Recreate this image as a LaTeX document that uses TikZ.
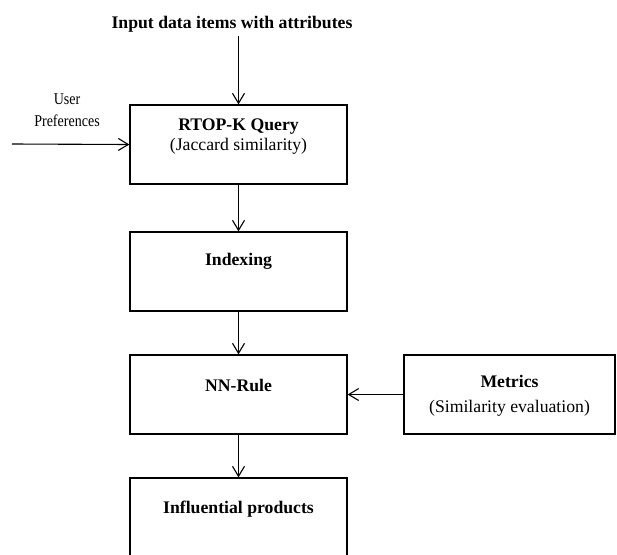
\documentclass[tikz,border=0pt]{standalone}
\usepackage{fontspec}
\setmainfont{Liberation Serif}
\usetikzlibrary{arrows.meta}

\begin{document}
\begin{tikzpicture}[x=1pt,y=-1pt,
  box/.style={draw=black, line width=1.3pt, minimum width=217pt, minimum height=79pt, inner sep=0pt},
  title/.style={font=\fontsize{17.7}{20}\selectfont\bfseries},
  sub/.style={font=\fontsize{17.7}{20}\selectfont},
  flow/.style={draw=black, line width=1.1pt, -{Straight Barb[length=10pt,width=12pt]}}]

\useasboundingbox (0,0) rectangle (617,554);

% INPUT
  \node[title] (input) at (232,24) {Input data items with attributes};

% USER PREFERENCES
  \node[align=center, font=\fontsize{16.5}{22}\selectfont] (pref) at (67,110)
    {\scalebox{0.85}[1]{User}\\\scalebox{0.85}[1]{Preferences}};
  \coordinate (prefin) at (12,144);

% BOXES
  \node[box] (query)   at (238.5,144.5) {};
  \node[box] (index)   at (238.5,271.5) {};
  \node[box] (nnrule)  at (238.5,394.5) {};
  \node[box, minimum width=211pt] (metrics) at (509.5,394.5) {};
  \node[box, minimum height=84pt] (products) at (238.5,520) {};

% BOX TEXTS
  \node[title] (querytitle) at ([yshift=-22pt]query.north) {RTOP-K Query};
  \node[sub]   (querysub)   at ([yshift=-42pt]query.north) {(Jaccard similarity)};
  \node[title] (indextitle) at ([yshift=-30pt]index.north) {Indexing};
  \node[title] (nntitle)    at ([yshift=-31pt]nnrule.north) {NN-Rule};
  \node[title] (mettitle)   at ([yshift=-27pt]metrics.north) {Metrics};
  \node[sub]   (metsub)     at ([yshift=-54pt]metrics.north) {(Similarity evaluation)};
  \node[title] (prodtitle)  at ([yshift=-32pt]products.north) {Influential products};

% ARROWS
  \draw[flow] (input.south -| query.north) -- (query.north);
  \draw[flow] (prefin) -- (query.west);
  \draw[flow] (query) -- (index);
  \draw[flow] (index) -- (nnrule);
  \draw[flow] (metrics) -- (nnrule);
  \draw[flow] (nnrule) -- (products);
\end{tikzpicture}
\end{document}
